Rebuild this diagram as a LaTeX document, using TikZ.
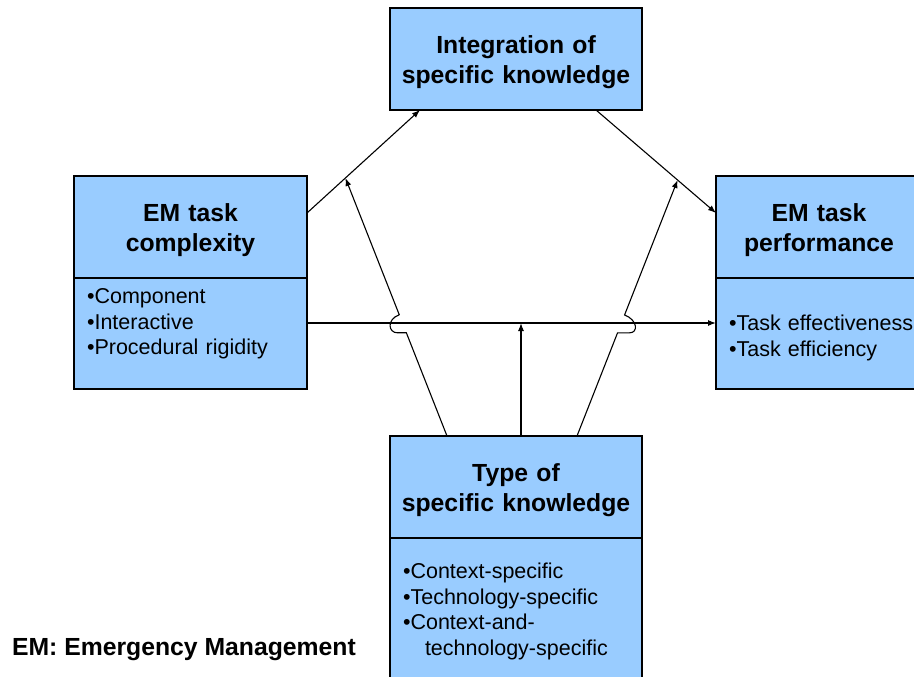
\documentclass[tikz,border=0pt]{standalone}
\usepackage{fontspec}
\setmainfont{Liberation Sans}
\usetikzlibrary{positioning}
\usetikzlibrary{calc}
\usetikzlibrary{arrows.meta}

\definecolor{boxblue}{HTML}{99CCFF}

\begin{document}
\begin{tikzpicture}[
x=1pt, y=1pt,
title/.style ={rectangle, draw=black, line width=1.3pt, fill=boxblue,
  text height=45.6pt, text depth=56.4pt, align=center, inner sep=0pt, outer sep=0pt,
  font=\fontsize{24.75}{29.5}\selectfont\bfseries
},
list/.style ={rectangle, draw=black, line width=1.3pt, fill=boxblue,
  align=left, inner xsep=13pt, inner ysep=0pt, outer sep=0pt,
  font=\fontsize{21.5}{25.7}\selectfont
},
line/.style ={draw, line width=1.1pt, -{Latex[length=8pt,width=6pt]}}
]
\useasboundingbox (0,0) rectangle (914,-677);
\clip (0,0) rectangle (914,-677);

\node[title, text width=252pt] (intk) at (516,-59) {Integration of\\specific knowledge};
\node[title, text width=233pt] (cx) at (190.5,-227) {EM task\\complexity};
\node[list, text width=207pt, text height=25.5pt, text depth=85.5pt] (cxlist) [below=0pt of cx]
  {•Component\\•Interactive\\•Procedural rigidity};
\node[title, text width=206pt, anchor=west] (perf) at (716,-227) {EM task\\performance};
\node[list, text width=190pt, text height=52.5pt, text depth=58.5pt, anchor=north west] (perflist)
  at (perf.south west) {•Task effectiveness\\•Task efficiency};
\node[title, text width=252pt] (typ) at (516,-487) {Type of\\specific knowledge};
\node[list, text width=226pt, text height=40.5pt, text depth=121.5pt] (typlist) [below=0pt of typ]
  {•Context-specific\\•Technology-specific\\•Context-and-\\\hspace*{22pt}technology-specific};
\node[anchor=west, font=\fontsize{24.75}{29.5}\selectfont\bfseries] (legend) at (8.5,-650)
  {EM: Emergency Management};

% link points
\coordinate (cxout) at ([yshift=14pt]cx.east);
\coordinate (intkin) at ([xshift=30pt]intk.south west);
\coordinate (intkout) at ([xshift=-46pt]intk.south east);
\coordinate (perfin) at ([yshift=14pt]perf.west);
\coordinate (cxlink) at ([yshift=10.5pt]cxlist.east);
\coordinate (perflink) at ([yshift=10.5pt]perflist.west);
\coordinate (tl) at ([xshift=-69pt]typ.north);
\coordinate (tm) at ([xshift=5pt]typ.north);
\coordinate (tr) at ([xshift=61pt]typ.north);
\coordinate (ml) at ($(cxout)!0.34!(intkin)$);
\coordinate (mr) at ($(intkout)!0.68!(perfin)$);

\draw[line] (cxout) -- (intkin);
\draw[line] (intkout) -- (perfin);
\draw[line] (cxlink) -- (perflink);
\draw[line] (tm) -- (tm |- cxlink);

% moderating links, hopping over the main link
\coordinate (hl1) at ($(tl)!0.40!(ml)$);
\coordinate (hl2) at ($(hl1)+(-9,0)$);
\coordinate (hl3) at ($(tl)!0.47!(ml)$);
\draw[line] (tl) -- (hl1) -- (hl2)
  .. controls ($(hl2)+(-9,0)$) and ($(hl3)+(-13,-5)$) .. (hl3) -- (ml);
\coordinate (hr1) at ($(tr)!0.403!(mr)$);
\coordinate (hr2) at ($(hr1)+(12,0)$);
\coordinate (hr3) at ($(tr)!0.473!(mr)$);
\draw[line] (tr) -- (hr1) -- (hr2)
  .. controls ($(hr2)+(9,0)$) and ($(hr3)+(13,-5)$) .. (hr3) -- (mr);
\end{tikzpicture}
\end{document}
